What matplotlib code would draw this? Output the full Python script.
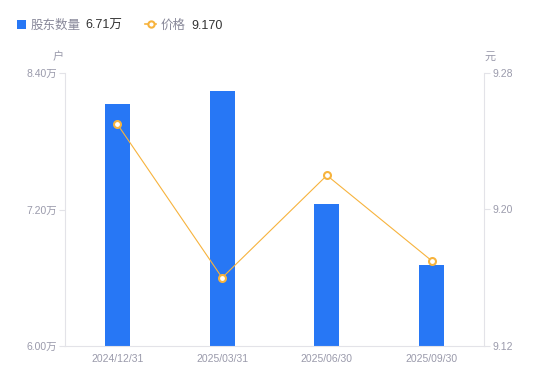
import matplotlib
matplotlib.use("Agg")
import matplotlib.pyplot as plt
from matplotlib.lines import Line2D
from matplotlib.patches import Rectangle

plt.rcParams['font.family'] = ['Liberation Sans', 'Noto Sans CJK SC', 'DejaVu Sans']

dates = ["2024/12/31", "2025/03/31", "2025/06/30", "2025/09/30"]
holders = [8.13, 8.24, 7.25, 6.71]   # 万户
prices = [9.25, 9.16, 9.22, 9.17]    # 元
left_ticks = [6.00, 7.20, 8.40]
right_ticks = [9.12, 9.20, 9.28]

W, H = 550, 381
fig = plt.figure(figsize=(W / 100, H / 100), dpi=100)
ax = fig.add_axes([65 / W, (H - 346) / H, (484 - 65) / W, (346 - 73) / H])
ax2 = ax.twinx()

bar_color = '#2777f5'
line_color = '#f7b33d'
tick_color = '#9a9aab'
axis_color = '#e3e3e8'

x = list(range(len(dates)))
ax.bar(x, holders, width=0.24, color=bar_color, zorder=2)
ax.set_xlim(-0.5, 3.5)
ax.set_ylim(left_ticks[0], left_ticks[-1])
ax.set_yticks(left_ticks)
ax.set_yticklabels([f"{v:.2f}万" for v in left_ticks])
ax.set_xticks(x)
ax.set_xticklabels(dates)

ax2.plot(x, prices, color=line_color, lw=0.8, marker='o', markersize=5,
         markerfacecolor='white', markeredgecolor=line_color, markeredgewidth=1.5, zorder=3)
ax2.set_ylim(right_ticks[0], right_ticks[-1])
ax2.set_yticks(right_ticks)
ax2.set_yticklabels([f"{v:.2f}" for v in right_ticks])

for a in (ax, ax2):
    for s in a.spines.values():
        s.set_visible(False)
    a.tick_params(colors=axis_color, labelcolor=tick_color, labelsize=7.5, length=4, width=0.8)

ax.spines['left'].set_visible(True)
ax.spines['left'].set_color(axis_color)
ax.spines['bottom'].set_visible(True)
ax.spines['bottom'].set_color(axis_color)
ax2.spines['right'].set_visible(True)
ax2.spines['right'].set_color(axis_color)
ax.tick_params(axis='x', length=0, pad=6)
ax.tick_params(axis='y', pad=2)
ax2.tick_params(axis='y', pad=2)
ax.set_zorder(ax2.get_zorder() - 1)
ax.patch.set_visible(False)

# unit labels
fig.text(58 / W, 1 - 57 / H, "户", fontsize=8, color=tick_color, ha='center', va='center')
fig.text(490 / W, 1 - 57 / H, "元", fontsize=8, color=tick_color, ha='center', va='center')

# legend
ly = 1 - 24 / H
ty = 1 - 26 / H
fig.patches.append(Rectangle((17 / W, ly - 4.5 / H), 9 / W, 9 / H, transform=fig.transFigure,
                             facecolor=bar_color, edgecolor='none'))
fig.text(31 / W, ty, "股东数量", fontsize=9, color='#888899', va='center', ha='left')
fig.text(85 / W, ty, f"{holders[-1]:.2f}万", fontsize=9, color='#333333', va='center', ha='left')
fig.lines.append(Line2D([145 / W, 156 / W], [ly, ly], transform=fig.transFigure, color=line_color, lw=1.2))
fig.lines.append(Line2D([150.5 / W], [ly], transform=fig.transFigure, marker='o', markersize=4.5,
                        markerfacecolor='white', markeredgecolor=line_color, markeredgewidth=1.5))
fig.text(161 / W, ty, "价格", fontsize=9, color='#888899', va='center', ha='left')
fig.text(191 / W, ty, f"{prices[-1]:.3f}", fontsize=9, color='#333333', va='center', ha='left')

fig.savefig("out.png", dpi=100, facecolor='white')
